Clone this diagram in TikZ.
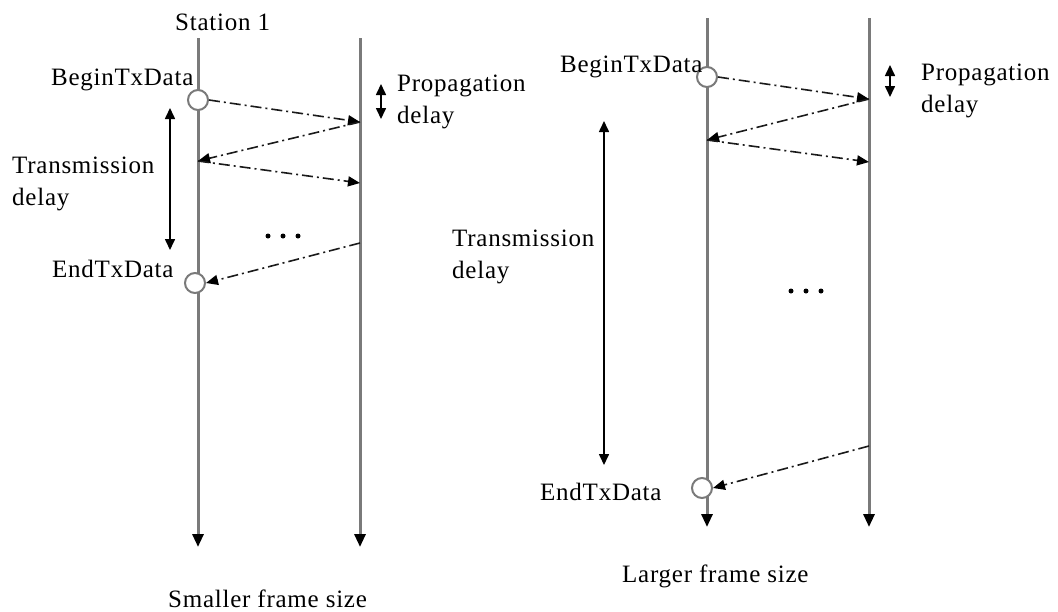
\documentclass[tikz,border=0pt]{standalone}
\usepackage{fontspec}
\setmainfont[LetterSpace=3]{Liberation Serif}
\usetikzlibrary{arrows.meta}
\definecolor{estGris}{HTML}{7A7A7A}
\definecolor{msjGris}{HTML}{1A1A1A}

\begin{document}
\begin{tikzpicture}[x=1pt,y=-1pt,
    linea/.style={draw=estGris, line width=3pt, -{Triangle[color=black,length=13pt,width=11pt]}},
    msj/.style={draw=msjGris, line width=1.6pt, dash pattern=on 11pt off 4pt on 2pt off 4pt,
      -{Triangle[color=black,length=12pt,width=10pt]}},
    retardo/.style={draw=black, line width=1.6pt,
      {Triangle[length=11pt,width=10pt]}-{Triangle[length=11pt,width=10pt]}},
    evento/.style={circle, draw=estGris, line width=2pt, fill=white, minimum size=20pt, inner sep=0pt},
    etiq/.style={font=\fontsize{25}{32}\selectfont, inner sep=0pt, align=left, anchor=base west},
    puntos/.style={circle, fill=black, minimum size=5pt, inner sep=0pt}]
  \useasboundingbox (0,0) rectangle (1058,611);

  % smaller frame size
  \coordinate (a1top) at (198,38);
  \coordinate (a1bot) at (198,547);
  \coordinate (a2top) at (360,38);
  \coordinate (a2bot) at (360,547);
  \draw[linea] (a1top) -- (a1bot);
  \draw[linea] (a2top) -- (a2bot);
  \node[etiq] (st1) at (175,30) {Station 1};
  \node[evento] (aBegin) at (198,100) {};
  \node[evento] (aEnd) at (195,283) {};
  \node[etiq] (aBeginLbl) at (51,85) {BeginTxData};
  \node[etiq] (aEndLbl) at (52,277) {EndTxData};
  \coordinate (aR1) at (360,122);
  \coordinate (aL1) at (198,161);
  \coordinate (aR2) at (360,183);
  \coordinate (aR3) at (360,243);
  \draw[msj] (aBegin.east) -- (aR1);
  \draw[msj] (aR1) -- (aL1);
  \draw[msj] (aL1) -- (aR2);
  \draw[msj] (aR3) -- (aEnd.east);
  \coordinate (aTxTop) at (170,108);
  \coordinate (aTxBot) at (170,250);
  \draw[retardo] (aTxTop) -- (aTxBot);
  \coordinate (aPrTop) at (381,84);
  \coordinate (aPrBot) at (381,119);
  \draw[retardo] (aPrTop) -- (aPrBot);
  % base anchor sits on the last line
  \node[etiq] (aTxLbl) at (12,205) {Transmission\\delay};
  \node[etiq] (aPrLbl) at (397,123) {Propagation\\delay};
  \foreach \x in {268,283,298}
    \node[puntos] (aDot\x) at (\x,236) {};
  \node[etiq] (aCap) at (168,607) {Smaller frame size};

  % larger frame size
  \coordinate (b1top) at (707,18);
  \coordinate (b1bot) at (707,527);
  \coordinate (b2top) at (869,18);
  \coordinate (b2bot) at (869,527);
  \draw[linea] (b1top) -- (b1bot);
  \draw[linea] (b2top) -- (b2bot);
  \node[evento] (bBegin) at (707,77) {};
  \node[evento] (bEnd) at (702,488) {};
  \node[etiq] (bBeginLbl) at (560,72) {BeginTxData};
  \node[etiq] (bEndLbl) at (540,500) {EndTxData};
  \coordinate (bR1) at (869,99);
  \coordinate (bL1) at (707,140);
  \coordinate (bR2) at (869,162);
  \coordinate (bR3) at (869,446);
  \draw[msj] (bBegin.east) -- (bR1);
  \draw[msj] (bR1) -- (bL1);
  \draw[msj] (bL1) -- (bR2);
  \draw[msj] (bR3) -- (bEnd.east);
  \coordinate (bTxTop) at (604,121);
  \coordinate (bTxBot) at (604,465);
  \draw[retardo] (bTxTop) -- (bTxBot);
  \coordinate (bPrTop) at (890,65);
  \coordinate (bPrBot) at (890,97);
  \draw[retardo] (bPrTop) -- (bPrBot);
  \node[etiq] (bTxLbl) at (452,278) {Transmission\\delay};
  \node[etiq] (bPrLbl) at (921,112) {Propagation\\delay};
  \foreach \x in {791,806,821}
    \node[puntos] (bDot\x) at (\x,291) {};
  \node[etiq] (bCap) at (622,582) {Larger frame size};
\end{tikzpicture}
\end{document}
